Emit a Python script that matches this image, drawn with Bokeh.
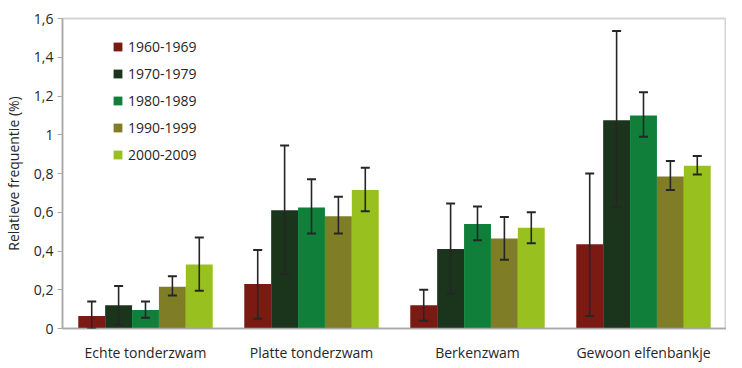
from bokeh.plotting import figure
from bokeh.models import ColumnDataSource, Whisker, TeeHead, FixedTicker, Legend, LegendItem
from bokeh.transform import dodge
from bokeh.embed import file_html
from bokeh.resources import INLINE

# ---- data ----
categories = ["Echte tonderzwam", "Platte tonderzwam", "Berkenzwam", "Gewoon elfenbankje"]
decades = ["1960-1969", "1970-1979", "1980-1989", "1990-1999", "2000-2009"]

values = {
    "1960-1969": [0.065, 0.23, 0.12, 0.435],
    "1970-1979": [0.12, 0.61, 0.41, 1.075],
    "1980-1989": [0.095, 0.625, 0.54, 1.10],
    "1990-1999": [0.215, 0.58, 0.465, 0.785],
    "2000-2009": [0.33, 0.715, 0.52, 0.84],
}
lower = {
    "1960-1969": [0.0, 0.05, 0.04, 0.065],
    "1970-1979": [0.02, 0.28, 0.18, 0.625],
    "1980-1989": [0.055, 0.49, 0.455, 0.99],
    "1990-1999": [0.17, 0.49, 0.355, 0.715],
    "2000-2009": [0.195, 0.605, 0.44, 0.795],
}
upper = {
    "1960-1969": [0.14, 0.405, 0.20, 0.80],
    "1970-1979": [0.22, 0.945, 0.645, 1.535],
    "1980-1989": [0.14, 0.77, 0.63, 1.22],
    "1990-1999": [0.27, 0.68, 0.575, 0.865],
    "2000-2009": [0.47, 0.83, 0.60, 0.89],
}
colors = ["#7b1a12", "#1b341c", "#0f7f3a", "#7f7d26", "#98c120"]

yticks = [0, 0.2, 0.4, 0.6, 0.8, 1, 1.2, 1.4, 1.6]
ytick_labels = ["0", "0,2", "0,4", "0,6", "0,8", "1", "1,2", "1,4", "1,6"]

FONT = "Open Sans"
TXT = "#262626"

# ---- figure ----
p = figure(x_range=categories, y_range=(0, 1.6), width=726, height=364,
           output_backend="svg", toolbar_location=None,
           min_border_left=58, min_border_right=0, min_border_top=18, min_border_bottom=33)
p.background_fill_color = "white"
p.border_fill_color = "white"
p.outline_line_color = "#d4d4d4"
p.outline_line_width = 2
p.xgrid.grid_line_color = None
p.ygrid.grid_line_color = None

data = {"cat": categories}
for i, d in enumerate(decades):
    data[f"v{i}"] = values[d]
    data[f"lo{i}"] = lower[d]
    data[f"hi{i}"] = upper[d]
src = ColumnDataSource(data)

n = len(decades)
bw = 0.162
items = []
whiskers = []
for i, d in enumerate(decades):
    off = (i - (n - 1) / 2) * bw
    r = p.vbar(x=dodge("cat", off, range=p.x_range), top=f"v{i}", width=bw, source=src,
               fill_color=colors[i], line_color=None)
    items.append(LegendItem(label=d, renderers=[r]))
    w = Whisker(base=dodge("cat", off, range=p.x_range), upper=f"hi{i}", lower=f"lo{i}", source=src,
                line_color="#262626", line_width=1.6, level="overlay",
                upper_head=TeeHead(size=9, line_color="#262626", line_width=2),
                lower_head=TeeHead(size=9, line_color="#262626", line_width=2))
    whiskers.append(w)

for w in whiskers:
    p.add_layout(w)

legend = Legend(items=items, location=(50, 164), orientation="vertical",
                border_line_color=None, background_fill_alpha=0,
                label_text_font=FONT, label_text_font_size="14px", label_text_color=TXT,
                glyph_width=11, glyph_height=11, label_height=20, spacing=7,
                label_standoff=5, padding=0, margin=0)
p.add_layout(legend)

# axes
p.yaxis.ticker = FixedTicker(ticks=yticks)
p.yaxis.major_label_overrides = dict(zip(yticks, ytick_labels))
p.yaxis.minor_tick_line_color = None
p.yaxis.major_tick_out = 5
p.yaxis.major_tick_in = 0
p.yaxis.major_label_standoff = 4
p.yaxis.axis_label = "Relatieve frequentie (%)"
p.yaxis.axis_label_standoff = 8
p.yaxis.axis_label_text_font = FONT
p.yaxis.axis_label_text_font_style = "normal"
p.yaxis.axis_label_text_font_size = "14px"
p.yaxis.axis_label_text_color = TXT

for ax in (p.xaxis, p.yaxis):
    ax.axis_line_color = "#a8a8a8"
    ax.axis_line_width = 1.5
    ax.major_tick_line_color = "#a8a8a8"
    ax.major_label_text_font = FONT
    ax.major_label_text_font_size = "14px"
    ax.major_label_text_color = TXT

p.xaxis.major_tick_out = 0
p.xaxis.major_tick_in = 0
p.xaxis.major_label_standoff = 14

open("out.html", "w").write(file_html(p, INLINE))
